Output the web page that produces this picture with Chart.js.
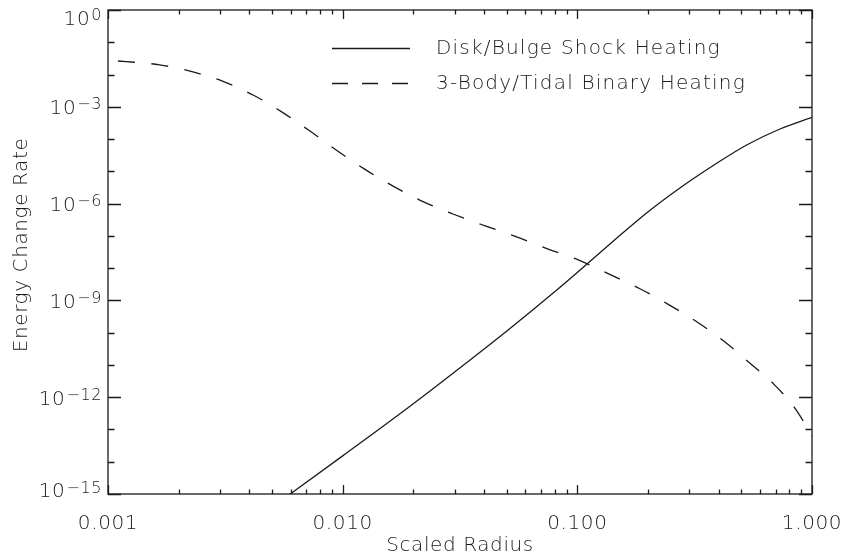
<!DOCTYPE html>
<html>
<head>
<meta charset="utf-8">
<script src="https://cdn.jsdelivr.net/npm/chart.js@4/dist/chart.umd.min.js"></script>
<style>
  html, body { margin: 0; padding: 0; background: #ffffff; }
  #wrap { width: 846px; height: 560px; position: relative; }
</style>
</head>
<body>
<div id="wrap"><canvas id="c"></canvas></div>
<script>
// ---- Data ----
const seriesNames = ['Disk/Bulge Shock Heating', '3-Body/Tidal Binary Heating'];

// Disk/Bulge shock heating (solid)
const shockRadius = [4.89e-3, 6.04e-3, 1.0e-2, 1.93e-2, 3.48e-2, 5.04e-2, 8.15e-2, 0.1025, 0.1421, 0.1973, 0.2736, 0.3795, 0.5266, 0.7304, 1.0];
const shockRate   = [3.47e-16, 1.05e-15, 1.52e-14, 5.16e-13, 1.40e-11, 1.17e-10, 2.06e-9, 8.59e-9, 6.79e-8, 5.12e-7, 3.05e-6, 1.52e-5, 6.56e-5, 2.05e-4, 4.73e-4];

// 3-body / tidal binary heating (dashed)
const binaryRadius = [1.0e-3, 1.197e-3, 1.66e-3, 2.28e-3, 3.11e-3, 4.19e-3, 5.56e-3, 7.28e-3, 9.48e-3, 1.24e-2, 1.64e-2, 2.20e-2, 2.97e-2, 4.05e-2, 5.51e-2, 7.46e-2, 0.102, 0.136, 0.184, 0.245, 0.324, 0.422, 0.541, 0.689, 0.857, 1.0];
const binaryRate   = [2.75e-2, 2.51e-2, 2.0e-2, 1.23e-2, 6.03e-3, 2.24e-3, 6.6e-4, 1.74e-4, 4.37e-5, 1.17e-5, 3.47e-6, 1.15e-6, 4.68e-7, 2.04e-7, 9.3e-8, 3.98e-8, 1.74e-8, 6.6e-9, 2.34e-9, 7.4e-10, 2.14e-10, 5.4e-11, 1.17e-11, 2.5e-12, 4.0e-13, 6.3e-14];

// Axis ticks
const xMajorTicks = [0.001, 0.01, 0.1, 1];
const xTickLabels = ['0.001', '0.010', '0.100', '1.000'];
const xMinorMultipliers = [2, 3, 4, 5, 6, 7, 8, 9];
const yDecadeExponents = [0, -1, -2, -3, -4, -5, -6, -7, -8, -9, -10, -11, -12, -13, -14, -15];
const yLabelExponents = [0, -3, -6, -9, -12, -15];
const yLabelBase = '10';
const yLabelPowers = ['0', '\u22123', '\u22126', '\u22129', '\u221212', '\u221215'];
const xTitle = 'Scaled Radius';
const yTitle = 'Energy Change Rate';

// ---- Styling ----
const FONT = "'DejaVu Sans', 'Liberation Sans', sans-serif";
const WEIGHT = '200';
const INK = '#1a1a1a';
const DASH = [17, 16.5];
Chart.defaults.font.family = FONT;
Chart.defaults.font.weight = WEIGHT;
Chart.defaults.color = INK;

function setSpacing(ctx, px) { try { ctx.letterSpacing = (px == null ? 0.6 : px) + 'px'; } catch (e) {} }

function toPoints(xs, ys) { return xs.map((x, i) => ({ x: x, y: ys[i] })); }

const xTickValues = [];
xMajorTicks.forEach((m, i) => {
  xTickValues.push({ value: m, major: true });
  if (i < xMajorTicks.length - 1) xMinorMultipliers.forEach(k => xTickValues.push({ value: m * k, major: false }));
});
const yTickValues = yDecadeExponents.map(e => ({ value: Math.pow(10, e), exp: e, major: yLabelExponents.indexOf(e) >= 0 }));

const spacingPlugin = {
  id: 'spacing',
  beforeUpdate(chart) { setSpacing(chart.ctx); },
  beforeDraw(chart) { setSpacing(chart.ctx); }
};

const framePlugin = {
  id: 'frame',
  afterDatasetsDraw(chart) {
    const { ctx, chartArea: a, scales } = chart;
    ctx.save();
    ctx.strokeStyle = INK;
    ctx.lineWidth = 1.3;
    ctx.setLineDash([]);
    ctx.strokeRect(a.left, a.top, a.right - a.left, a.bottom - a.top);
    ctx.beginPath();
    xTickValues.forEach(t => {
      const px = Math.round(scales.x.getPixelForValue(t.value)) + 0.5;
      const len = t.major ? 9 : 4.5;
      ctx.moveTo(px, a.bottom); ctx.lineTo(px, a.bottom - len);
      ctx.moveTo(px, a.top); ctx.lineTo(px, a.top + len);
    });
    yTickValues.forEach(t => {
      const py = Math.round(scales.y.getPixelForValue(t.value)) + 0.5;
      const len = t.major ? 13 : 6.5;
      ctx.moveTo(a.left, py); ctx.lineTo(a.left + len, py);
      ctx.moveTo(a.right, py); ctx.lineTo(a.right - len, py);
    });
    ctx.stroke();

    // y tick labels with real superscripts, positioned by the y scale
    ctx.fillStyle = INK;
    ctx.textAlign = 'right';
    ctx.textBaseline = 'alphabetic';
    setSpacing(ctx, 0.6);
    yLabelExponents.forEach((e, i) => {
      let cy = scales.y.getPixelForValue(Math.pow(10, e));
      cy = Math.min(Math.max(cy, a.top + 7.5), a.bottom - 4);
      const right = a.left - 6;
      ctx.font = WEIGHT + ' 16px ' + FONT;
      const pw = ctx.measureText(yLabelPowers[i]).width;
      ctx.fillText(yLabelPowers[i], right, cy + 2.5);
      ctx.font = WEIGHT + ' 20px ' + FONT;
      ctx.fillText(yLabelBase, right - pw - 1, cy + 7.3);
    });

    // y axis title
    ctx.save();
    ctx.translate(27, 245);
    ctx.rotate(-Math.PI / 2);
    ctx.textAlign = 'center';
    ctx.font = WEIGHT + ' 20px ' + FONT;
    ctx.fillText(yTitle, 0, 0);
    ctx.restore();
    ctx.restore();
  }
};

const legendPlugin = {
  id: 'insideLegend',
  afterDraw(chart) {
    const { ctx } = chart;
    const rows = [48, 83];
    ctx.save();
    setSpacing(ctx, 1.2);
    ctx.font = WEIGHT + ' 20px ' + FONT;
    ctx.fillStyle = INK;
    ctx.textBaseline = 'middle';
    ctx.textAlign = 'left';
    chart.data.datasets.forEach((ds, i) => {
      const y = rows[i] + 0.5;
      ctx.strokeStyle = ds.borderColor;
      ctx.lineWidth = ds.borderWidth;
      ctx.setLineDash(ds.borderDash && ds.borderDash.length ? [16, 14] : []);
      ctx.beginPath();
      ctx.moveTo(332, y); ctx.lineTo(410, y);
      ctx.stroke();
      ctx.fillText(ds.label, 436, rows[i] + 1);
    });
    ctx.restore();
  }
};

new Chart(document.getElementById('c'), {
  type: 'line',
  data: {
    datasets: [
      {
        label: seriesNames[0],
        data: toPoints(shockRadius, shockRate),
        borderColor: INK,
        borderWidth: 1.3,
        pointRadius: 0,
        fill: false,
        cubicInterpolationMode: 'monotone'
      },
      {
        label: seriesNames[1],
        data: toPoints(binaryRadius, binaryRate),
        borderColor: INK,
        borderWidth: 1.3,
        borderDash: DASH,
        borderDashOffset: 23.5,
        pointRadius: 0,
        fill: false,
        cubicInterpolationMode: 'monotone'
      }
    ]
  },
  options: {
    responsive: true,
    maintainAspectRatio: false,
    animation: false,
    events: [],
    layout: { padding: { top: 10, right: 34, left: 0, bottom: 0 } },
    plugins: { legend: { display: false }, tooltip: { enabled: false } },
    scales: {
      x: {
        type: 'logarithmic',
        position: 'bottom',
        min: 0.001,
        max: 1,
        grid: { display: false },
        border: { display: false },
        afterBuildTicks(scale) { scale.ticks = xTickValues.map(t => ({ value: t.value, major: t.major })); },
        afterFit(scale) { scale.height = 66; scale.paddingLeft = 0; scale.paddingRight = 0; },
        ticks: {
          autoSkip: false,
          maxRotation: 0,
          minRotation: 0,
          padding: 10,
          font: { size: 20, weight: WEIGHT },
          color: INK,
          callback(value) {
            const i = xMajorTicks.findIndex(m => Math.abs(value / m - 1) < 1e-6);
            return i >= 0 ? xTickLabels[i] : '';
          }
        },
        title: {
          display: true,
          text: xTitle,
          font: { size: 20, weight: WEIGHT },
          color: INK,
          padding: { top: 0, bottom: 2 }
        }
      },
      y: {
        type: 'logarithmic',
        position: 'left',
        min: 1e-15,
        max: 1,
        grid: { display: false },
        border: { display: false },
        afterBuildTicks(scale) { scale.ticks = yTickValues.map(t => ({ value: t.value, major: t.major })); },
        afterFit(scale) { scale.width = 108; scale.paddingTop = 0; scale.paddingBottom = 0; },
        ticks: {
          autoSkip: false,
          padding: 6,
          font: { size: 20, weight: WEIGHT },
          callback() { return ''; }
        },
        title: { display: false }
      }
    }
  },
  plugins: [spacingPlugin, framePlugin, legendPlugin]
});
</script>
</body>
</html>
